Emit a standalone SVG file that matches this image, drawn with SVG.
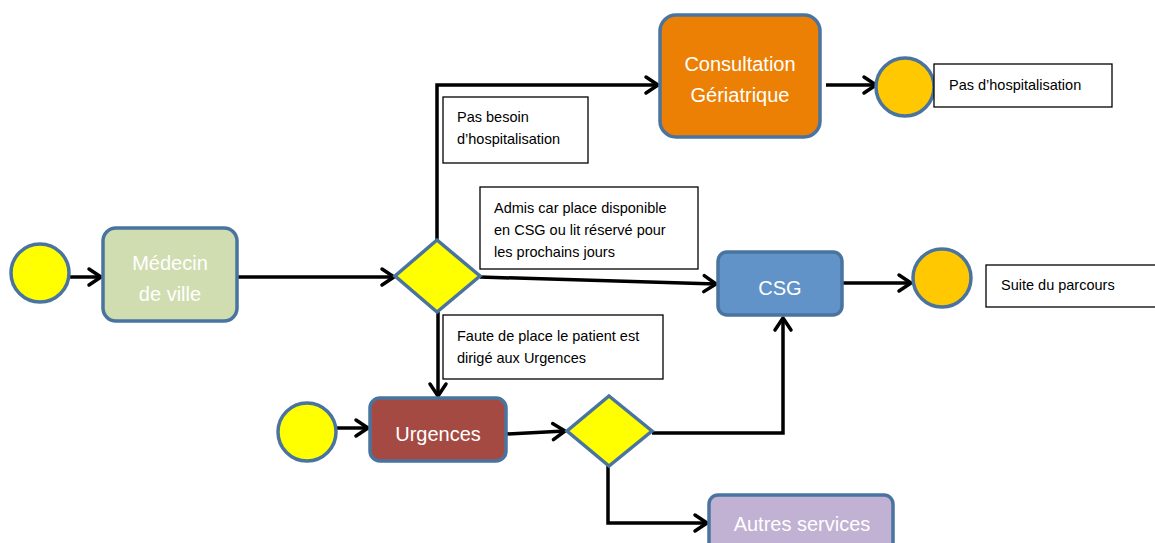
<svg xmlns="http://www.w3.org/2000/svg" width="1155" height="543" viewBox="0 0 1155 543">
<defs>
<marker id="arr" markerUnits="userSpaceOnUse" markerWidth="22" markerHeight="22" refX="15" refY="10" orient="auto" overflow="visible">
<path d="M3,2 L15,10 L3,18" fill="none" stroke="#000" stroke-width="3.5" stroke-linecap="round" stroke-linejoin="round"/>
</marker>
<style>
.node{stroke:#4A74A0;stroke-width:3.5}
.start{fill:#FFFF00;stroke:#4A74A0;stroke-width:3.5}
.end{fill:#FFC800;stroke:#4A74A0;stroke-width:3.5}
.dia{fill:#FFFF00;stroke:#4A74A0;stroke-width:3.5}
.lbl{fill:#fff;stroke:#000;stroke-width:1.3}
.nt{font-family:"Liberation Sans",Arial,sans-serif;font-size:20px;fill:#fff;text-anchor:middle}
.lt{font-family:"Liberation Sans",Arial,sans-serif;font-size:14.5px;fill:#000}
.con{fill:none;stroke:#000;stroke-width:3.5;marker-end:url(#arr)}
</style>
</defs>
<rect width="1155" height="543" fill="#fff"/>
<g id="connectors">
<line class="con" x1="69" y1="277" x2="101" y2="277"/>
<line class="con" x1="238" y1="277" x2="394" y2="277"/>
<polyline class="con" points="437,240 437,85 658,85"/>
<line class="con" x1="480" y1="277" x2="716" y2="284"/>
<line class="con" x1="826" y1="85" x2="876" y2="85"/>
<line class="con" x1="842" y1="283" x2="911" y2="283"/>
<line class="con" x1="438" y1="312" x2="438" y2="396"/>
<line class="con" x1="336" y1="428" x2="368" y2="428"/>
<line class="con" x1="506" y1="434" x2="565" y2="431"/>
<polyline class="con" points="652,433 783,433 783,318"/>
<polyline class="con" points="608,466 608,523 707,523"/>
</g>
<g id="start1"><circle class="start" cx="40" cy="273" r="29"/></g>
<g id="medecin">
<rect class="node" x="103" y="228" width="134" height="93" rx="13" fill="#D0DDB0"/>
<text class="nt" x="170" y="270">Médecin</text>
<text class="nt" x="170" y="301">de ville</text>
</g>
<g id="decision1"><polygon class="dia" points="437,240 480,276 437,312 395,276"/></g>
<g id="label-pas-besoin">
<rect class="lbl" x="443" y="97" width="145" height="66"/>
<text class="lt" x="457" y="122">Pas besoin</text>
<text class="lt" x="457" y="144">d’hospitalisation</text>
</g>
<g id="consultation">
<rect class="node" x="660" y="15" width="160" height="122" rx="16" fill="#EC8005"/>
<text class="nt" x="740" y="71">Consultation</text>
<text class="nt" x="740" y="102">Gériatrique</text>
</g>
<g id="end1"><circle class="end" cx="905" cy="87" r="29"/></g>
<g id="label-pas-hosp">
<rect class="lbl" x="934" y="64" width="178" height="43"/>
<text class="lt" x="949" y="90">Pas d’hospitalisation</text>
</g>
<g id="label-admis">
<rect class="lbl" x="480" y="187" width="218" height="82"/>
<text class="lt" x="494" y="213">Admis car place disponible</text>
<text class="lt" x="494" y="235">en CSG ou lit réservé pour</text>
<text class="lt" x="494" y="257">les prochains jours</text>
</g>
<g id="csg">
<rect class="node" x="718" y="252" width="124" height="63" rx="9" fill="#6193C8"/>
<text class="nt" x="780" y="295">CSG</text>
</g>
<g id="end2"><circle class="end" cx="942" cy="278" r="29"/></g>
<g id="label-suite">
<rect class="lbl" x="986" y="265" width="180" height="42"/>
<text class="lt" x="1001" y="290">Suite du parcours</text>
</g>
<g id="label-faute">
<rect class="lbl" x="443" y="315" width="220" height="64"/>
<text class="lt" x="457" y="341">Faute de place le patient est</text>
<text class="lt" x="457" y="363">dirigé aux Urgences</text>
</g>
<g id="start2"><circle class="start" cx="307" cy="432" r="29"/></g>
<g id="urgences">
<rect class="node" x="370" y="398" width="136" height="63" rx="10" fill="#A54A43"/>
<text class="nt" x="438" y="441">Urgences</text>
</g>
<g id="decision2"><polygon class="dia" points="609,396 652,431 609,466 567,431"/></g>
<g id="autres">
<rect class="node" x="709" y="495" width="184" height="62" rx="9" fill="#C1B1D3"/>
<text class="nt" x="802" y="531">Autres services</text>
</g>
</svg>
